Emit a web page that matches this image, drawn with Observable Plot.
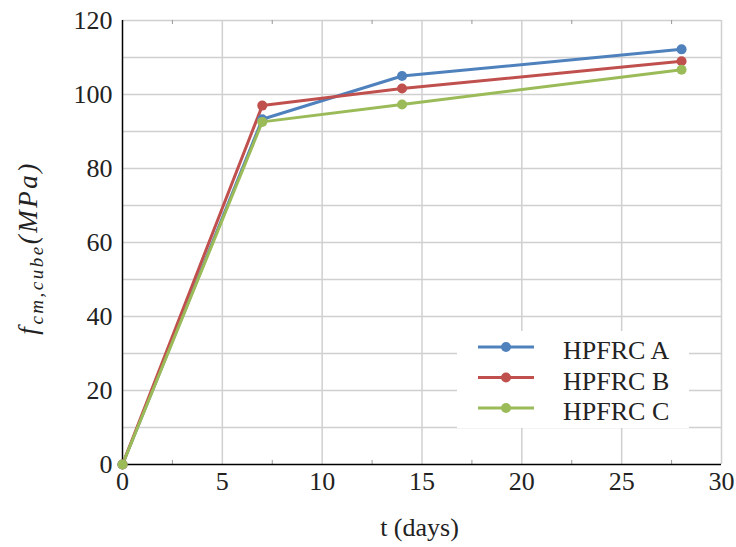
<!DOCTYPE html>
<html><head><meta charset="utf-8">
<script src="https://cdn.jsdelivr.net/npm/d3@7"></script>
<script src="https://cdn.jsdelivr.net/npm/@observablehq/plot@0.6"></script>
<style>
body{margin:0;background:#fff;}
#chart{position:relative;width:736px;height:547px;}
#chart svg text, #chart svg tspan{font-family:'Liberation Serif','DejaVu Serif','Times New Roman',serif !important;}
</style>
</head><body><div id="chart"></div>
<script>
const days = [0, 7, 14, 28];
const seriesNames = ["HPFRC A", "HPFRC B", "HPFRC C"];
const seriesColors = ["#4F81BD", "#C0504D", "#9BBB59"];
const hpfrcA = [0, 93.3, 105.0, 112.2];
const hpfrcB = [0, 97.0, 101.6, 109.0];
const hpfrcC = [0, 92.6, 97.3, 106.7];
const xTicks = [0, 5, 10, 15, 20, 25, 30];
const xMinorTicks = [2.5, 7.5, 12.5, 17.5, 22.5, 27.5];
const yTicks = [0, 20, 40, 60, 80, 100, 120];
const yGrid = [10, 20, 30, 40, 50, 60, 70, 80, 90, 100, 110, 120];
const xLabel = "t (days)";

const seriesValues = [hpfrcA, hpfrcB, hpfrcC];
const data = [];
seriesNames.forEach((name, i) => {
  days.forEach((d, j) => data.push({series: name, day: d, value: seriesValues[i][j]}));
});

const W = 736, H = 547;
const mL = 122, mR = 15, mT = 20, mB = 83;
const FS = 26;

const chart = Plot.plot({
  width: W, height: H,
  marginLeft: mL, marginRight: mR, marginTop: mT, marginBottom: mB,
  style: {background: "#fff"},
  x: {domain: [0, 30]},
  y: {domain: [0, 120]},
  color: {domain: seriesNames, range: seriesColors},
  marks: [
    Plot.gridX(xTicks.slice(1), {stroke: "#d0d0d0", strokeOpacity: 1, strokeWidth: 1.5}),
    Plot.gridY(yGrid, {stroke: "#d0d0d0", strokeOpacity: 1, strokeWidth: 1.5}),
    Plot.ruleX(xMinorTicks, {y1: 0, y2: 1.1, stroke: "#999", strokeWidth: 1}),
    Plot.ruleX(xMinorTicks, {y1: 118.9, y2: 120, stroke: "#999", strokeWidth: 1}),
    Plot.ruleX([0], {stroke: "#000", strokeWidth: 1.5}),
    Plot.ruleY([0], {stroke: "#000", strokeWidth: 1.5}),
    Plot.line(data, {x: "day", y: "value", z: "series", stroke: "series", strokeWidth: 3}),
    Plot.dot(data, {x: "day", y: "value", fill: "series", r: 5}),
    Plot.axisX(xTicks, {tickSize: 0, tickPadding: 7, fontSize: FS, fill: "#222", label: null}),
    Plot.axisY(yTicks, {tickSize: 0, tickPadding: 10, fontSize: FS, fill: "#222", label: null})
  ]
});
chart.setAttribute("font-family", "Liberation Serif, serif");
chart.style.fontFamily = "'Liberation Serif', serif";

const svg = d3.select(chart);
// x label
svg.append("text")
  .attr("x", mL + (W - mL - mR) / 2 - 2).attr("y", 536)
  .attr("text-anchor", "middle").attr("font-size", FS).attr("fill", "#222")
  .text(xLabel);
// y label
const yl = svg.append("text")
  .attr("transform", `translate(37,${(mT + H - mB) / 2 + 6}) rotate(-90)`)
  .attr("text-anchor", "middle").attr("font-size", 27).attr("fill", "#222")
  .attr("font-style", "italic").attr("letter-spacing", 2.5);
yl.append("tspan").text("f");
yl.append("tspan").attr("font-size", 19).attr("dy", 6).text("cm,cube");
yl.append("tspan").attr("dy", -6).text("(MPa)");

// legend
const lg = svg.append("g");
lg.append("rect").attr("x", 457).attr("y", 331).attr("width", 232).attr("height", 97).attr("fill", "#fff");
seriesNames.forEach((name, i) => {
  const y = 347 + i * 30.5;
  lg.append("line").attr("x1", 478).attr("x2", 534).attr("y1", y).attr("y2", y)
    .attr("stroke", seriesColors[i]).attr("stroke-width", 3);
  lg.append("circle").attr("cx", 506).attr("cy", y).attr("r", 5).attr("fill", seriesColors[i]);
  lg.append("text").attr("x", 563).attr("y", y + 12).attr("font-size", FS).attr("fill", "#222")
    .attr("text-anchor", "start").text(name);
});

document.getElementById("chart").appendChild(chart);
</script>
</body></html>
